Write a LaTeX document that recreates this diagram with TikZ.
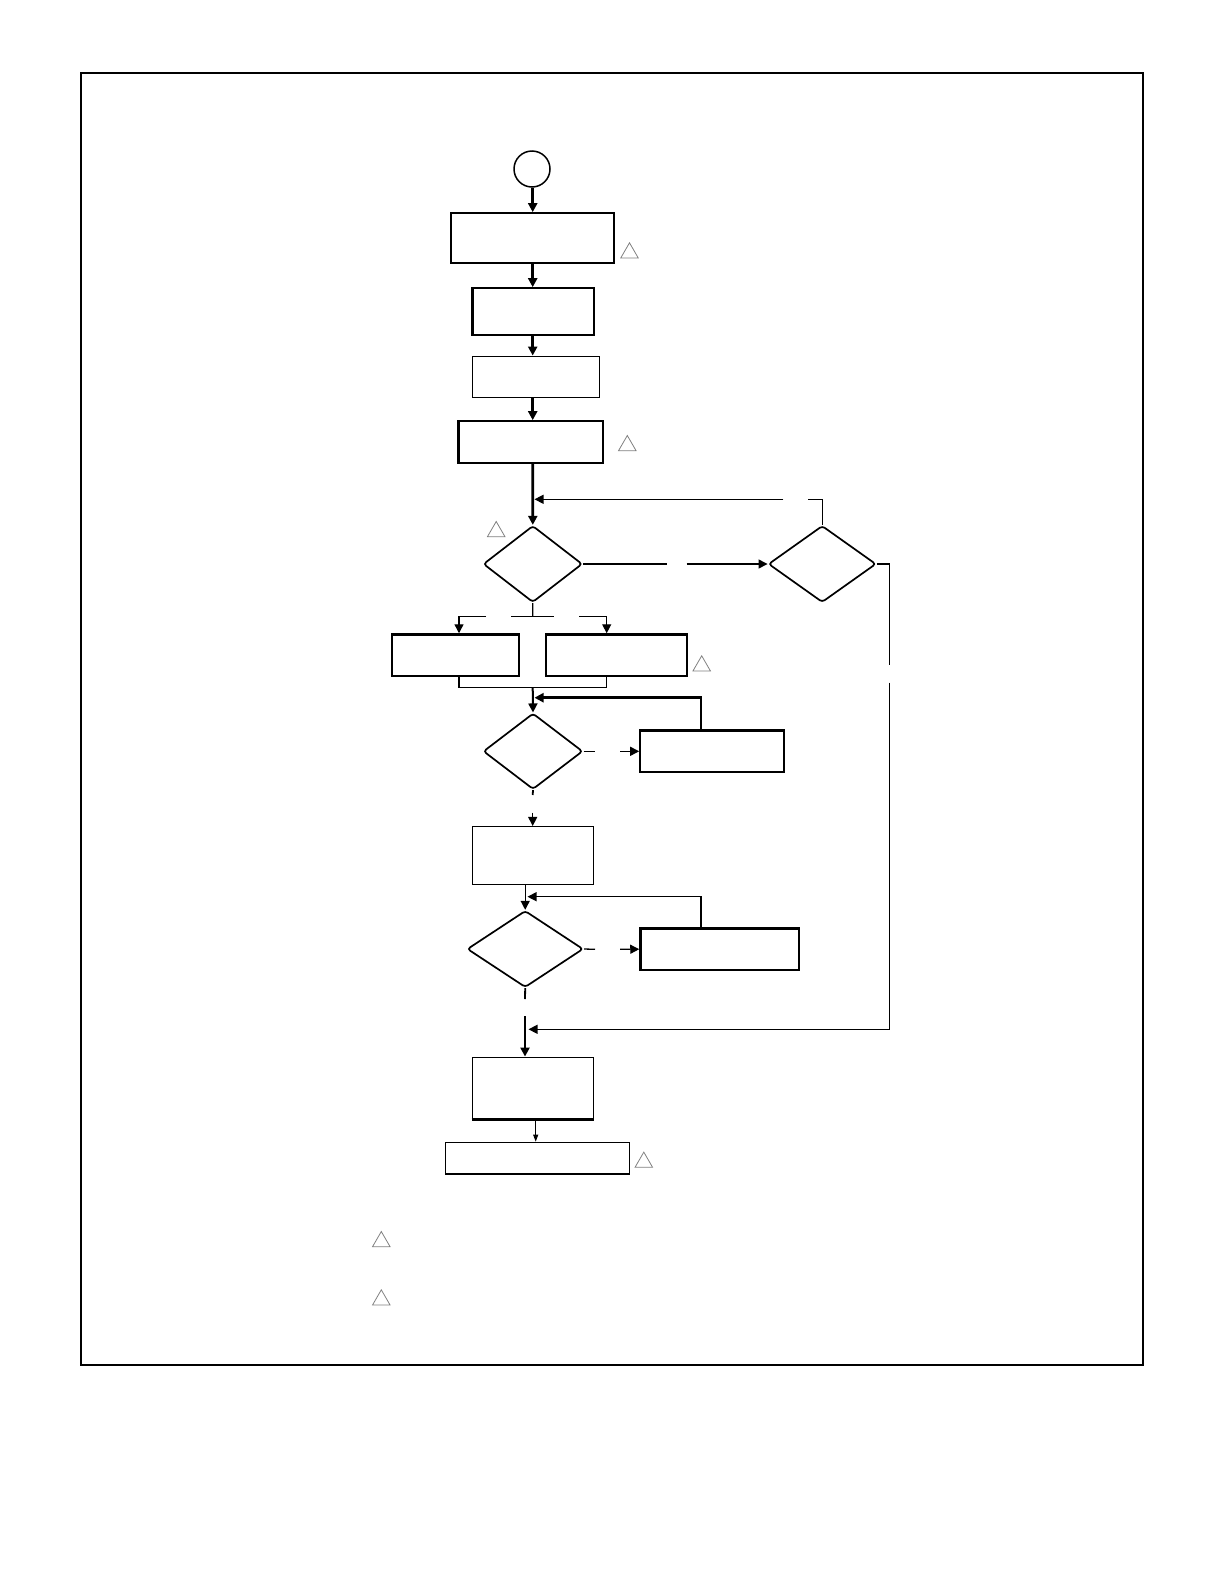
\documentclass[tikz,border=0pt]{standalone}
\usetikzlibrary{arrows.meta,shapes.geometric}

\begin{document}
\begin{tikzpicture}[x=0.5bp,y=-0.5bp,
  >={Triangle[length=4.5bp,width=4.5bp]},
  box/.style={draw,rectangle,line width=1.15bp,inner sep=0pt},
  lightbox/.style={draw,rectangle,line width=0.75bp,inner sep=0pt},
  decision/.style={draw,diamond,line width=0.85bp,inner sep=0pt,rounded corners=1.5bp},
  warnmark/.style={draw=gray,regular polygon,regular polygon sides=3,minimum size=10.1bp,inner sep=0pt,line width=0.4bp},
  link/.style={line width=0.65bp},
  flow/.style={line width=1.3bp}]
\useasboundingbox (0,0) rectangle (1224,1584);
\draw[line width=1bp] (80.8,72.7) rectangle (1143.3,1365.4);

\node[draw,circle,line width=0.75bp,minimum size=18bp,inner sep=0pt] (start) at (532,169) {};
\node[box,minimum width=81.8bp,minimum height=24.7bp] (b1) at (532.5,238) {};
\node[box,minimum width=60.7bp,minimum height=23.5bp] (b2) at (533.3,311.8) {};
\node[lightbox,minimum width=63.5bp,minimum height=20.5bp] (b3) at (535.8,376.8) {};
\node[box,minimum width=72.2bp,minimum height=20.7bp] (b4) at (530.8,442) {};
\node[decision,minimum width=49.5bp,minimum height=38.3bp] (d1) at (532.8,564) {};
\node[decision,minimum width=53.8bp,minimum height=38.3bp] (d2) at (822.2,564) {};
\node[box,minimum width=63.8bp,minimum height=20.8bp] (b5) at (455.5,655.2) {};
\node[box,minimum width=70.5bp,minimum height=20.8bp] (b6) at (616.2,655.2) {};
\node[decision,minimum width=49.7bp,minimum height=38bp] (d3) at (533,751.3) {};
\node[box,minimum width=72bp,minimum height=20.7bp] (b7) at (712.3,751.3) {};
\node[lightbox,minimum width=60.7bp,minimum height=28.8bp] (b8) at (533,855.5) {};
\node[decision,minimum width=58bp,minimum height=38.3bp] (d4) at (525.2,949) {};
\node[box,minimum width=79.3bp,minimum height=20.8bp] (b9) at (719.7,949.2) {};
\node[lightbox,minimum width=60.5bp,minimum height=30.7bp] (b10) at (532.8,1088) {};
\node[lightbox,minimum width=92bp,minimum height=15.8bp] (b11) at (537.3,1158.2) {};
\draw[flow] (b10.south west) -- (b10.south east);

\node[warnmark] (t1) at (629.5,252.9) {};
\node[warnmark] (t2) at (627.3,445.6) {};
\node[warnmark] (t3) at (496.2,531.6) {};
\node[warnmark] (t4) at (701.7,665.9) {};
\node[warnmark] (t5) at (643.8,1162.2) {};
\node[warnmark] (t6) at (381.3,1241.6) {};
\node[warnmark] (t7) at (381.3,1299.9) {};

% main line
\coordinate (sp) at (532.7,0);
\draw[->,flow] (sp |- start.south) -- (sp |- b1.north);
\draw[->,flow] (sp |- b1.south) -- (sp |- b2.north);
\draw[->,flow] (sp |- b2.south) -- (sp |- b3.north);
\draw[->,flow] (sp |- b3.south) -- (sp |- b4.north);
\draw[->,flow] (sp |- b4.south) -- (d1.north);

% back from d2
\coordinate (f1) at (820.7,499.3);
\coordinate (f1a) at (808,499.3);
\coordinate (f1b) at (783.3,499.3);
\coordinate (f1e) at (534.5,499.3);
\draw[link] (d2.north) -- (d2.north |- f1) -- (f1a);
\draw[->,link] (f1b) -- (f1e);

\coordinate (g1) at (667.3,564);
\coordinate (g2) at (686.7,564);
\draw[link] (d1.east) -- (g1);
\draw[->,link] (g2) -- (d2.west);

\coordinate (r1) at (889.3,665);
\coordinate (r2) at (889.3,682.7);
\coordinate (r3) at (889.3,1029.3);
\coordinate (r4) at (528.5,1029.3);
\draw[link] (d2.east) -- (d2.east -| r1) -- (r1);
\draw[->,link] (r2) -- (r3) -- (r4);

% split under d1
\coordinate (s0) at (532.7,616.7);
\coordinate (sL) at (459,616.7);
\coordinate (s1) at (486,616.7);
\coordinate (s2) at (511,616.7);
\coordinate (s3) at (553.7,616.7);
\coordinate (s4) at (579.3,616.7);
\coordinate (sR) at (606.7,616.7);
\draw[link] (d1.south) -- (s0);
\draw[link] (s2) -- (s3);
\draw[->,link] (s1) -- (sL) -- (sL |- b5.north);
\draw[->,link] (s4) -- (sR) -- (sR |- b6.north);

\coordinate (m) at (532.7,687.3);
\draw[link] (sL |- b5.south) -- (sL |- m) -- (sR |- m) -- (sR |- b6.south);
\draw[->,line width=1bp] (m) -- (d3.north);

\coordinate (f2) at (701,697.7);
\coordinate (f2e) at (534.5,697.7);
\draw[->,flow] (f2 |- b7.north) -- (f2) -- (f2e);

\coordinate (h1) at (595,751.3);
\coordinate (h2) at (620,751.3);
\draw[link] (d3.east) -- (h1);
\draw[->,link] (h2) -- (b7.west);

\coordinate (k1) at (532.7,795);
\coordinate (k2) at (532.7,812.7);
\draw[line width=0.9bp] (d3.south) -- (k1);
\draw[->,link] (k2) -- (k2 |- b8.north);

\draw[->,link] (d4.north |- b8.south) -- (d4.north);

\coordinate (f3) at (701,896.7);
\coordinate (f3e) at (527.5,896.7);
\draw[->,link] (f3 |- b9.north) -- (f3) -- (f3e);

\coordinate (h3) at (595,949.3);
\coordinate (h4) at (620,949.3);
\draw[link] (d4.east) -- (h3);
\draw[->,link] (h4) -- (b9.west);

\coordinate (q1) at (525,999);
\coordinate (q2) at (525,1016);
\draw[line width=0.9bp] (d4.south) -- (q1);
\draw[->,flow] (q2) -- (q2 |- b10.north);

\coordinate (e1) at (535.7,0);
\draw[-{Triangle[length=3.5bp,width=2.5bp]},line width=0.5bp] (e1 |- b10.south) -- (e1 |- b11.north);
\end{tikzpicture}
\end{document}
